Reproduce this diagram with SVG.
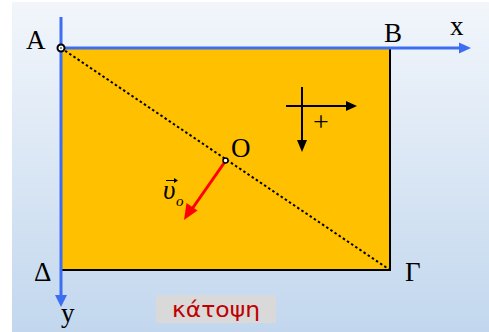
<svg xmlns="http://www.w3.org/2000/svg" width="489" height="332" viewBox="0 0 489 332">
<defs>
<linearGradient id="bg" x1="0" y1="0" x2="0" y2="1">
<stop offset="0" stop-color="#f2f6fb"/>
<stop offset="1" stop-color="#c2d7ee"/>
</linearGradient>
<style>
.lbl{font-family:"Liberation Serif","Times New Roman",serif;font-size:27px;fill:#000}
.axis{stroke:#3d6ef2;stroke-width:3;fill:none}
.blk{fill:#000}
</style>
</defs>
<rect x="0" y="0" width="489" height="332" fill="#ffffff"/>
<rect x="12" y="2" width="477" height="330" fill="url(#bg)"/>
<g id="plate">
<rect x="61" y="48" width="329" height="222" fill="#ffc000" stroke="#000" stroke-width="2"/>
</g>
<g id="connectors">
<line x1="61" y1="48" x2="390" y2="270" stroke="#000" stroke-width="2" stroke-dasharray="2.5,2.5"/>
<line class="axis" x1="59.5" y1="48" x2="461" y2="48"/>
<polygon points="459,42.5 471,48 459,53.5" fill="#3d6ef2"/>
<line class="axis" x1="61" y1="17" x2="61" y2="296"/>
<polygon points="55,295 67,295 61,307" fill="#3d6ef2"/>
<line x1="225.5" y1="161" x2="192" y2="209" stroke="#ff0000" stroke-width="3"/>
<polygon points="184,220 186.5,203 197.5,210.5" fill="#ff0000"/>
<line x1="286" y1="106" x2="347" y2="106" stroke="#000" stroke-width="2"/>
<polygon points="346,101 357,106 346,111" class="blk"/>
<line x1="302" y1="87" x2="302" y2="141" stroke="#000" stroke-width="2"/>
<polygon points="297,140 307,140 302,152" class="blk"/>
</g>
<g id="A">
<circle cx="61" cy="48" r="3.5" fill="#fff" stroke="#000" stroke-width="2"/>
<circle cx="61" cy="48" r="0.8" fill="#000"/>
<text class="lbl" x="26" y="49">A</text>
</g>
<g id="B"><text class="lbl" x="384" y="42">B</text></g>
<g id="x"><text class="lbl" x="450" y="35">x</text></g>
<g id="Delta"><text class="lbl" x="34" y="281">Δ</text></g>
<g id="Gamma"><text class="lbl" x="405" y="281">Γ</text></g>
<g id="y"><text class="lbl" x="61" y="322">y</text></g>
<g id="O">
<circle cx="225.5" cy="160.5" r="2.5" fill="#fff" stroke="#000" stroke-width="1.5"/>
<text class="lbl" x="231" y="157">O</text>
</g>
<g id="v">
<text class="lbl" x="163" y="199" font-style="italic">υ</text>
<text x="176" y="206" font-family="Liberation Serif, serif" font-size="15" font-style="italic">o</text>
<line x1="166" y1="180.5" x2="176" y2="180.5" stroke="#000" stroke-width="1"/>
<polygon points="174,178 178,180.5 174,183" class="blk"/>
</g>
<g id="plus"><text x="321" y="131" font-family="Liberation Serif, serif" font-size="28" text-anchor="middle">+</text></g>
<g id="label">
<rect x="156" y="295" width="120" height="28" fill="#d9d9d9"/>
<text x="216" y="317" font-family="DejaVu Sans, sans-serif" font-size="22" fill="#c00000" text-anchor="middle" textLength="88" lengthAdjust="spacingAndGlyphs">κάτοψη</text>
</g>
</svg>
